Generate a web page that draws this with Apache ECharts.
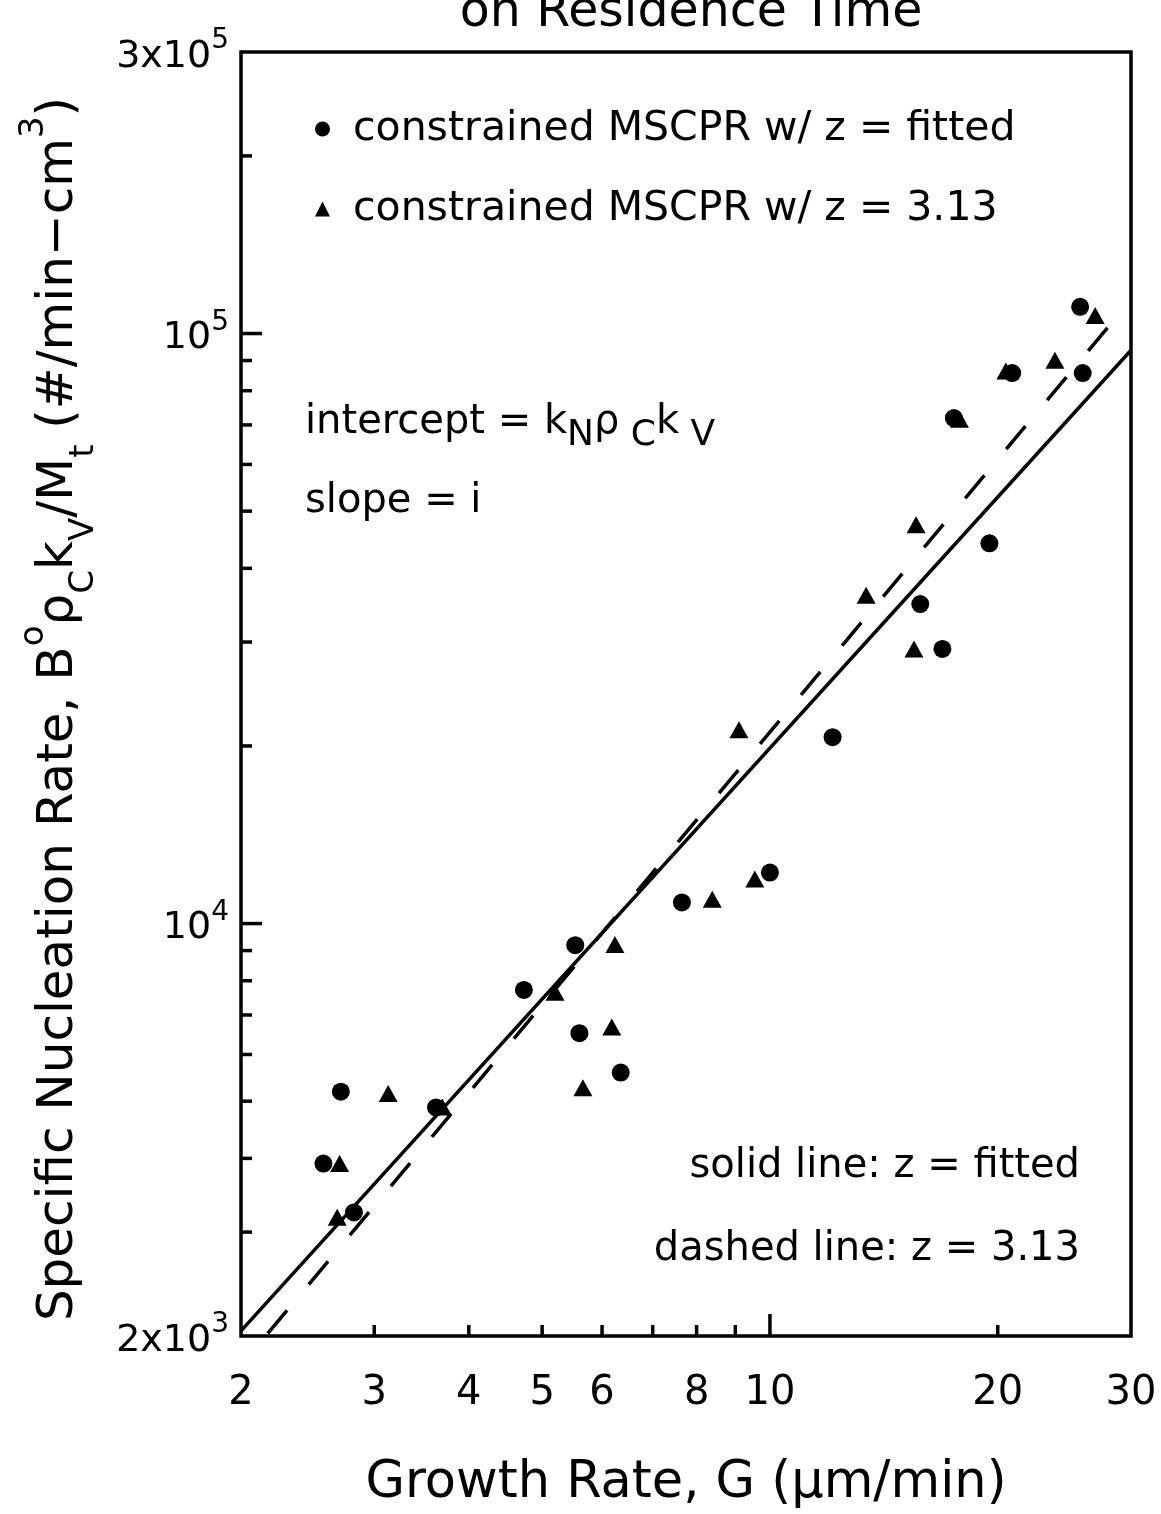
<!DOCTYPE html>
<html><head><meta charset="utf-8">
<script src="https://cdn.jsdelivr.net/npm/echarts@6/dist/echarts.min.js"></script>
<style>html,body{margin:0;padding:0;background:#fff;overflow:hidden}#c{width:1161px;height:1514px}</style>
</head><body><div id="c"></div>
<script>
const FONT = 'DejaVu Sans';
// Growth rate G (um/min) and specific nucleation rate, series: constrained MSCPR w/ z = fitted
const fittedG = [2.57, 2.71, 2.82, 3.62, 4.73, 5.53, 5.60, 6.35, 7.65, 10.0, 12.1, 15.8, 16.9, 17.5, 19.5, 20.9, 25.7, 25.9];
const fittedB = [3920, 5190, 3240, 4880, 7720, 9190, 6520, 5590, 10860, 12200, 20700, 34800, 29200, 71900, 44100, 85700, 111000, 85700];
// series: constrained MSCPR w/ z = 3.13
const z313G = [2.70, 2.68, 3.13, 3.69, 5.20, 5.66, 6.18, 6.24, 8.39, 9.10, 9.55, 13.4, 15.5, 15.6, 17.8, 20.5, 23.8, 26.9];
const z313B = [3920, 3180, 5150, 4890, 7650, 5270, 6680, 9220, 11000, 21300, 11900, 36000, 29200, 47400, 71600, 86400, 90100, 107300];
// fit lines (end points)
const solidLineG = [2, 30];
const solidLineB = [2040, 93700];
const dashedLineG = [2.17, 27.96];
const dashedLineB = [2020, 102400];
// axes
const X_MIN = 2, X_MAX = 30, Y_MIN = 2000, Y_MAX = 300000;
const xTickLabels = [2, 3, 4, 5, 6, 8, 10, 20, 30];
const xMinorTicks = [3, 4, 5, 6, 7, 8, 9, 20];
const xMajorTicks = [10];
const yMinorTicks = [3000, 4000, 5000, 6000, 7000, 8000, 9000, 20000, 30000, 40000, 50000, 60000, 70000, 80000, 90000, 200000];
const yMajorTicks = [10000, 100000];
const yTickLabels = [2000, 10000, 100000, 300000];
const yTickLabelText = ['2x10{s|3}', '10{s|4}', '10{s|5}', '3x10{s|5}'];

const NAME_FIT = 'constrained MSCPR w/ z = fitted';
const NAME_313 = 'constrained MSCPR w/ z = 3.13';

function tickSeries(values, onX, len) {
  return {
    type: 'custom', silent: true, z: 5,
    data: values.map(v => onX ? [v, Y_MIN] : [X_MIN, v]),
    renderItem: function (params, api) {
      const p = api.coord([api.value(0), api.value(1)]);
      const shape = onX ? {x1: p[0], y1: p[1], x2: p[0], y2: p[1] - len}
                        : {x1: p[0], y1: p[1], x2: p[0] + len, y2: p[1]};
      return {type: 'line', shape: shape, style: {stroke: '#000', lineWidth: 3.5}};
    }
  };
}

const chart = echarts.init(document.getElementById('c'), null, {renderer: 'canvas'});
chart.setOption({
  animation: false,
  backgroundColor: '#fff',
  textStyle: {fontFamily: FONT, color: '#000'},
  title: {
    text: 'on Residence Time', left: 686, textAlign: 'center', top: -16,
    textStyle: {fontFamily: FONT, fontSize: 49, fontWeight: 'normal', color: '#000'}
  },
  grid: {left: 241, top: 52, width: 890, height: 1289, show: true, borderColor: '#000', borderWidth: 3.5, containLabel: false},
  legend: {
    orient: 'vertical', left: 310, top: 103, itemGap: 38, itemWidth: 15, itemHeight: 15,
    selectedMode: false,
    itemStyle: {opacity: 1},
    textStyle: {fontFamily: FONT, fontSize: 41, color: '#000', padding: [0, 0, 0, 18], lineHeight: 42},
    data: [{name: NAME_FIT, icon: 'circle'}, {name: NAME_313, icon: 'triangle'}]
  },
  xAxis: {
    type: 'log', logBase: 10, min: X_MIN, max: X_MAX,
    axisLine: {show: false}, axisTick: {show: false}, axisLabel: {show: false}, splitLine: {show: false},
    name: 'Growth Rate, G (μm/min)', nameLocation: 'middle', nameGap: 122,
    nameTextStyle: {fontFamily: FONT, fontSize: 51, color: '#000'}
  },
  yAxis: {
    type: 'log', logBase: 10, min: Y_MIN, max: Y_MAX,
    axisLine: {show: false}, axisTick: {show: false}, axisLabel: {show: false}, splitLine: {show: false},
    name: 'Specific Nucleation Rate, B{sup|o}ρ{sub|C}k{sub|V}/M{sub|t} (#/min−cm{sup|3})',
    nameLocation: 'middle', nameGap: 140, nameRotate: 90,
    nameTextStyle: {
      fontFamily: FONT, fontSize: 50, color: '#000', lineHeight: 84, padding: [0, 30, 0, 0],
      rich: {
        sup: {fontFamily: FONT, fontSize: 34, color: '#000', verticalAlign: 'top', lineHeight: 42},
        sub: {fontFamily: FONT, fontSize: 34, color: '#000', verticalAlign: 'bottom', lineHeight: 42}
      }
    }
  },
  graphic: [
    {type: 'text', x: 305, y: 423, silent: true,
      style: {text: 'intercept = k{b|N}ρ{b| C}k{b| V}', fontFamily: FONT, fontSize: 40, fill: '#000',
        textAlign: 'left', textVerticalAlign: 'middle', lineHeight: 62,
        rich: {b: {fontFamily: FONT, fontSize: 36, fill: '#000', verticalAlign: 'bottom', lineHeight: 36}}}},
    {type: 'text', x: 305, y: 502, silent: true,
      style: {text: 'slope = i', fontFamily: FONT, fontSize: 40, fill: '#000', textAlign: 'left', textVerticalAlign: 'middle'}},
    {type: 'text', x: 1080, y: 1167, silent: true,
      style: {text: 'solid line: z = fitted', fontFamily: FONT, fontSize: 40, fill: '#000', textAlign: 'right', textVerticalAlign: 'middle'}},
    {type: 'text', x: 1080, y: 1250, silent: true,
      style: {text: 'dashed line: z = 3.13', fontFamily: FONT, fontSize: 40, fill: '#000', textAlign: 'right', textVerticalAlign: 'middle'}}
  ],
  series: [
    {name: 'solid fit', type: 'line', data: solidLineG.map((g, i) => [g, solidLineB[i]]), symbol: 'none', silent: true,
      lineStyle: {color: '#000', width: 3.5}, z: 3},
    {name: 'dashed fit', type: 'line', data: dashedLineG.map((g, i) => [g, dashedLineB[i]]), symbol: 'none', silent: true,
      lineStyle: {color: '#000', width: 3.5, type: [30, 34]}, z: 3},
    {name: NAME_FIT, type: 'scatter', data: fittedG.map((g, i) => [g, fittedB[i]]), symbol: 'circle', symbolSize: 18,
      itemStyle: {color: '#000', opacity: 1}, z: 4},
    {name: NAME_313, type: 'scatter', data: z313G.map((g, i) => [g, z313B[i]]), symbol: 'triangle', symbolSize: [19, 17],
      itemStyle: {color: '#000', opacity: 1}, z: 4},
    tickSeries(xMinorTicks, true, 11),
    tickSeries(xMajorTicks, true, 22),
    tickSeries(yMinorTicks, false, 11),
    tickSeries(yMajorTicks, false, 21),
    {
      type: 'custom', silent: true, z: 5,
      data: xTickLabels.map(v => [v, Y_MIN]),
      renderItem: function (params, api) {
        const v = api.value(0);
        const p = api.coord([v, api.value(1)]);
        return {type: 'text', x: p[0], y: p[1] + 58,
          style: {text: String(v), fontFamily: FONT, fontSize: 40, fill: '#000', textAlign: 'center', textVerticalAlign: 'middle'}};
      }
    },
    {
      type: 'custom', silent: true, z: 5,
      data: yTickLabels.map((v, i) => [X_MIN, v, i]),
      renderItem: function (params, api) {
        const p = api.coord([api.value(0), api.value(1)]);
        const txt = yTickLabelText[params.dataIndex];
        return {type: 'text', x: p[0] - 12, y: p[1] + 5,
          style: {text: txt, fontFamily: FONT, fontSize: 38, fill: '#000', textAlign: 'right', textVerticalAlign: 'middle', lineHeight: 60,
            rich: {s: {fontFamily: FONT, fontSize: 28, fill: '#000', verticalAlign: 'top', lineHeight: 28}}}};
      }
    }
  ]
});
</script>
</body></html>
